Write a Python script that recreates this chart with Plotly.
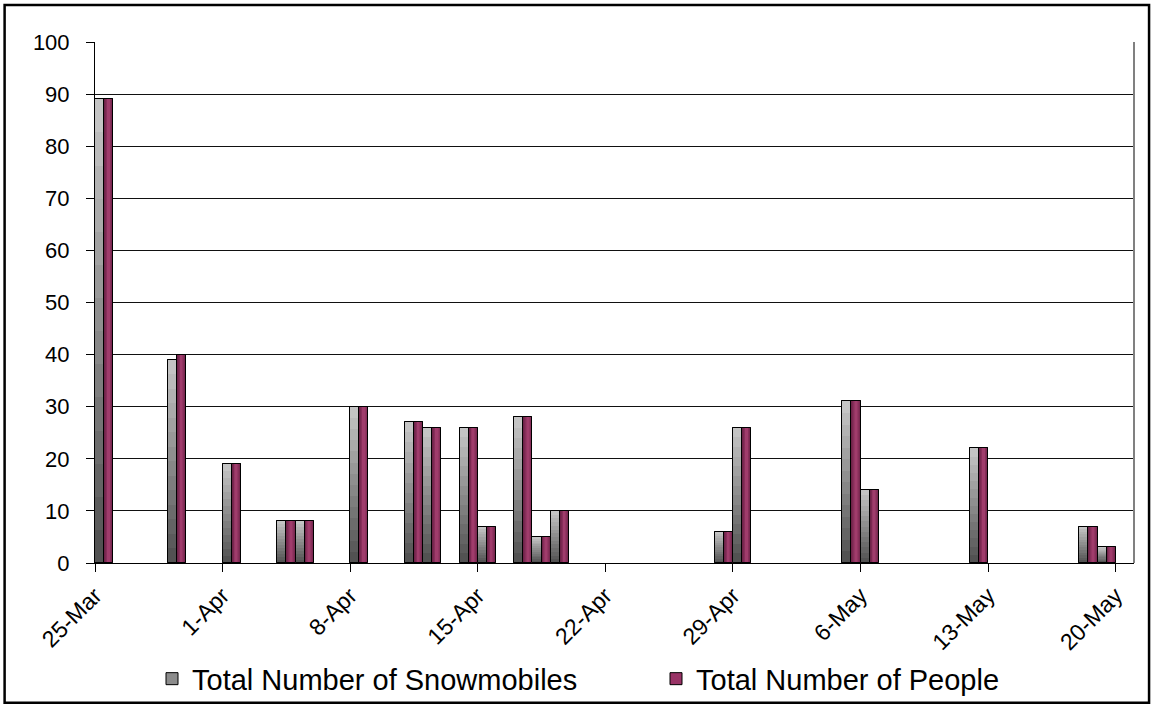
import plotly.graph_objects as go

# ---- data ----
dates = ["2007-03-25", "2007-03-29", "2007-04-01", "2007-04-04", "2007-04-05",
         "2007-04-08", "2007-04-11", "2007-04-12", "2007-04-14", "2007-04-15",
         "2007-04-17", "2007-04-18", "2007-04-19", "2007-04-28", "2007-04-29",
         "2007-05-05", "2007-05-06", "2007-05-12", "2007-05-18", "2007-05-19"]
snowmobiles = [89, 39, 19, 8, 8, 30, 27, 26, 26, 7, 28, 5, 10, 6, 26, 31, 14, 22, 7, 3]
people = [89, 40, 19, 8, 8, 30, 27, 26, 26, 7, 28, 5, 10, 6, 26, 31, 14, 22, 7, 3]
tick_dates = ["2007-03-25", "2007-04-01", "2007-04-08", "2007-04-15", "2007-04-22",
              "2007-04-29", "2007-05-06", "2007-05-13", "2007-05-20"]
tick_labels = ["25-Mar", "1-Apr", "8-Apr", "15-Apr", "22-Apr",
               "29-Apr", "6-May", "13-May", "20-May"]
series_names = ["Total Number of Snowmobiles", "Total Number of People"]

DAY = 86400000
HALF = DAY / 2
FONT = "Liberation Sans, Arial, sans-serif"


def lerp(c1, c2, t):
    return "rgb(%d,%d,%d)" % tuple(round(a + (b - a) * t) for a, b in zip(c1, c2))


fig = go.Figure()

# ---- Snowmobiles: grey vertical gradient (light top, dark bottom) ----
fig.add_trace(go.Bar(x=dates, y=snowmobiles, name=series_names[0], offset=0, width=HALF,
                     marker=dict(color="#8c8c8c", line=dict(color="black", width=1)),
                     showlegend=True, legend="legend"))
N = 14
light, dark = (196, 196, 196), (82, 82, 82)
for k in range(N):
    frac = 1 - k / N
    fig.add_trace(go.Bar(x=dates, y=[v * frac for v in snowmobiles], offset=0, width=HALF,
                         marker=dict(color=lerp(light, dark, k / (N - 1)), line=dict(width=0)),
                         showlegend=False, hoverinfo="skip"))
fig.add_trace(go.Bar(x=dates, y=snowmobiles, offset=0, width=HALF,
                     marker=dict(color="rgba(0,0,0,0)", line=dict(color="black", width=1)),
                     showlegend=False, hoverinfo="skip"))

# ---- People: purple horizontal gradient (light centre, dark edges) ----
fig.add_trace(go.Bar(x=dates, y=people, name=series_names[1], offset=HALF, width=HALF,
                     marker=dict(color="#993366", line=dict(color="black", width=1)),
                     showlegend=True, legend="legend2"))
M = 5
edge, centre = (110, 34, 72), (160, 60, 108)
for k in range(M):
    f = 1 - k / M
    fig.add_trace(go.Bar(x=dates, y=people, offset=HALF + (1 - f) * HALF / 2, width=f * HALF,
                         marker=dict(color=lerp(edge, centre, k / (M - 1)), line=dict(width=0)),
                         showlegend=False, hoverinfo="skip"))
fig.add_trace(go.Bar(x=dates, y=people, offset=HALF, width=HALF,
                     marker=dict(color="rgba(0,0,0,0)", line=dict(color="black", width=1)),
                     showlegend=False, hoverinfo="skip"))

legend_common = dict(orientation="h", xref="container", yref="container",
                     xanchor="left", y=0.0385, yanchor="middle",
                     font=dict(size=29, family=FONT, color="black"),
                     bgcolor="rgba(0,0,0,0)")

fig.update_layout(
    width=1156, height=706,
    margin=dict(l=95, r=22, t=42, b=143, autoexpand=False),
    paper_bgcolor="white", plot_bgcolor="white",
    barmode="overlay", bargap=0,
    font=dict(family=FONT, color="black", size=22),
    legend=dict(x=152 / 1156, **legend_common),
    legend2=dict(x=656 / 1156, **legend_common),
    xaxis=dict(type="date", range=["2007-03-25", "2007-05-21"],
               tickmode="array", tickvals=tick_dates, ticktext=tick_labels,
               tickangle=-45, ticks="outside", ticklen=8, tickcolor="black", tickwidth=1,
               showgrid=False, showline=True, linecolor="black", linewidth=1,
               tickfont=dict(size=23, family=FONT), ticklabelstandoff=1),
    yaxis=dict(range=[0, 100], dtick=10, ticks="outside", ticklen=8, tickcolor="black",
               showgrid=True, gridcolor="#111111", gridwidth=1, zeroline=False,
               showline=True, linecolor="black", linewidth=1,
               tickfont=dict(size=22, family=FONT), ticklabelstandoff=12),
    shapes=[
        dict(type="line", xref="paper", yref="paper", x0=1, x1=1, y0=0, y1=1,
             line=dict(color="#808080", width=2)),
        dict(type="rect", xref="paper", yref="paper", x0=-0.087, x1=1.0145,
             y0=-0.268, y1=1.071, line=dict(color="black", width=2.5),
             fillcolor="rgba(0,0,0,0)", layer="above"),
    ],
)

fig.write_html("out.html", config={"displayModeBar": False},
               post_script="document.body.style.margin='0px';")
